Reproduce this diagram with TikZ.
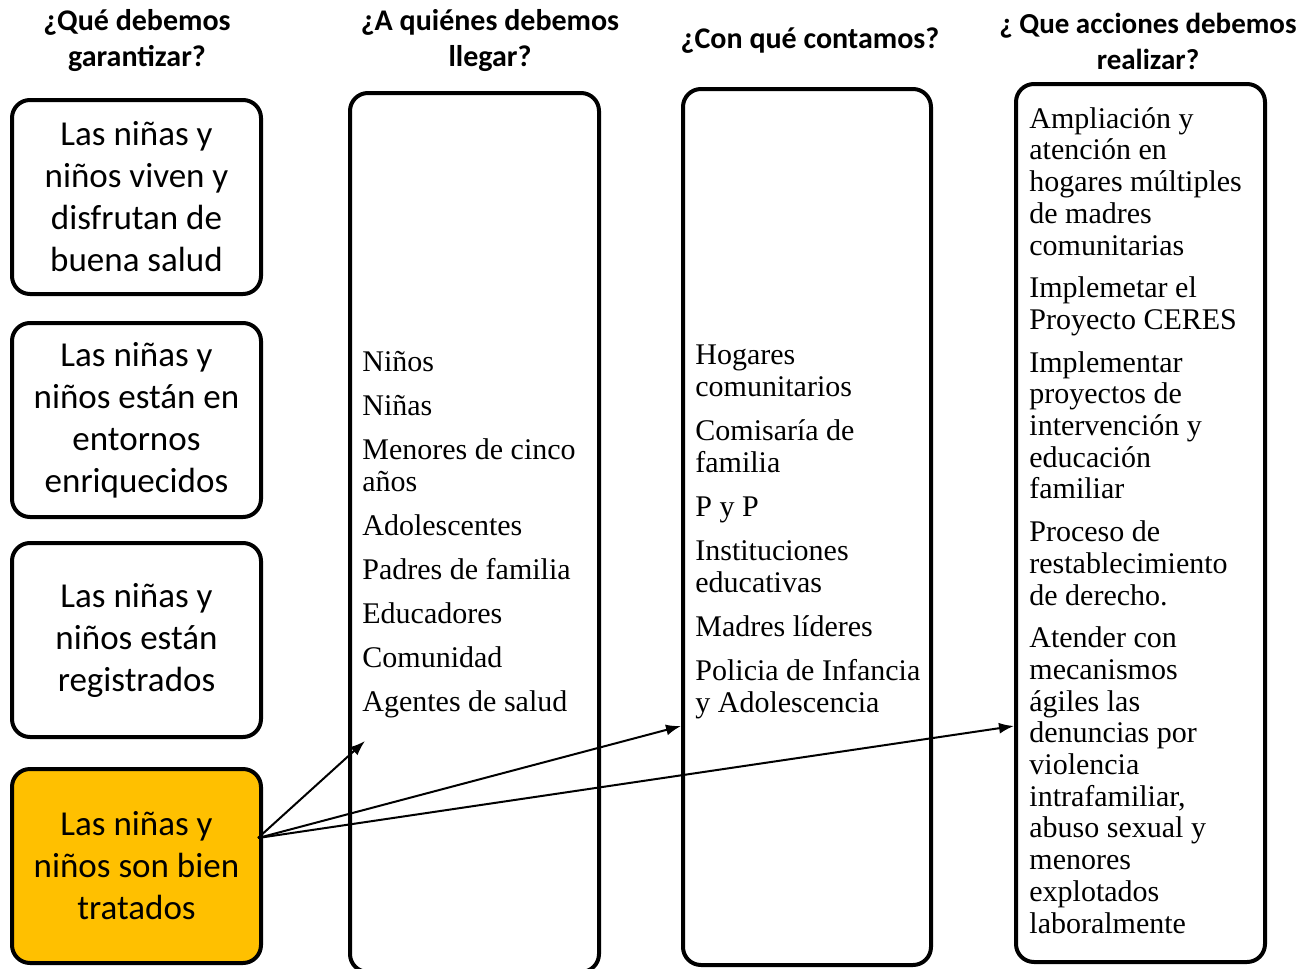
\documentclass[tikz,border=0pt]{standalone}
\usepackage{fontspec}
\setmainfont{Carlito}
\newfontfamily\listfont{Liberation Serif}
\usetikzlibrary{arrows.meta,positioning}
\definecolor{goalGold}{RGB}{255,192,0}
\tikzset{
  goal box/.style={draw=black,line width=2pt,rounded corners=9pt,fill=white,align=center,minimum width=124.5pt,minimum height=97pt,font=\fontsize{17.5}{21}\selectfont},
  goal box gold/.style={goal box,fill=goalGold},
  column box/.style={draw=black,line width=2pt,rounded corners=9pt,minimum width=124.5pt},
  column text/.style={anchor=north west,inner sep=0pt,align=left,font=\listfont\fontsize{15}{16}\selectfont},
  heading/.style={align=center,font=\bfseries\fontsize{15}{18}\selectfont},
  link arrow/.style={-{Latex[length=7.5pt,width=5.5pt]},line width=1pt}
}
\begin{document}
\begin{tikzpicture}[x=0.5pt,y=-0.5pt]
  \useasboundingbox (0,0) rectangle (1312,969);
  % column headings
  \node[heading] (headGoal) at (137,41) {¿Qué debemos\\garantizar?};
  \node[heading] (headWho) at (490,41) {¿A quiénes debemos\\llegar?};
  \node[heading] (headRes) at (810,41) {¿Con qué contamos?};
  \node[heading,font=\bfseries\fontsize{14.5}{18}\selectfont] (headAct) at (1148,41) {¿ Que acciones debemos\\realizar?};
  % goals
  \node[goal box] (goalHealth) at (136.5,197) {Las niñas y\\niños viven y\\disfrutan de\\buena salud};
  \node[goal box,below=12.5pt of goalHealth] (goalEnv) {Las niñas y\\niños están en\\entornos\\enriquecidos};
  \node[goal box,below=11pt of goalEnv] (goalReg) {Las niñas y\\niños están\\registrados};
  \node[goal box gold,below=14pt of goalReg] (goalCare) {Las niñas y\\niños son bien\\tratados};
  % columns
  \node[column box,minimum height=439.5pt] (whoBox) at (474.5,532.5) {};
  \node[column box,minimum height=438pt,minimum width=124pt] (resBox) at (807,527) {};
  \node[column box,minimum height=439pt] (actBox) at (1140.5,523) {};
  \node[column text] (whoList) at (362,351) {Niños\\[6pt]Niñas\\[6pt]Menores de cinco\\años\\[6pt]Adolescentes\\[6pt]Padres de familia\\[6pt]Educadores\\[6pt]Comunidad\\[6pt]Agentes de salud};
  \node[column text] (resList) at (695,344) {Hogares\\comunitarios\\[6pt]Comisaría de\\familia\\[6pt]P y P\\[6pt]Instituciones\\educativas\\[6pt]Madres líderes\\[6pt]Policia de Infancia\\y Adolescencia};
  \node[column text,font=\listfont\fontsize{15}{15.85}\selectfont] (actList) at (1029,107) {Ampliación y\\atención en\\hogares múltiples\\de madres\\comunitarias\\[5.5pt]Implemetar el\\Proyecto CERES\\[5.5pt]Implementar\\proyectos de\\intervención y\\educación\\familiar\\[5.5pt]Proceso de\\restablecimiento\\de derecho.\\[5.5pt]Atender con\\mecanismos\\ágiles las\\denuncias por\\violencia\\intrafamiliar,\\abuso sexual y\\menores\\explotados\\laboralmente};
  % links
  \coordinate (careOut) at (258,838);
  \coordinate (whoIn) at (365,741);
  \coordinate (resIn) at (681,726);
  \coordinate (actIn) at (1014,726);
  \draw[link arrow] (careOut) -- (whoIn);
  \draw[link arrow] (careOut) -- (resIn);
  \draw[link arrow] (careOut) -- (actIn);
\end{tikzpicture}
\end{document}
